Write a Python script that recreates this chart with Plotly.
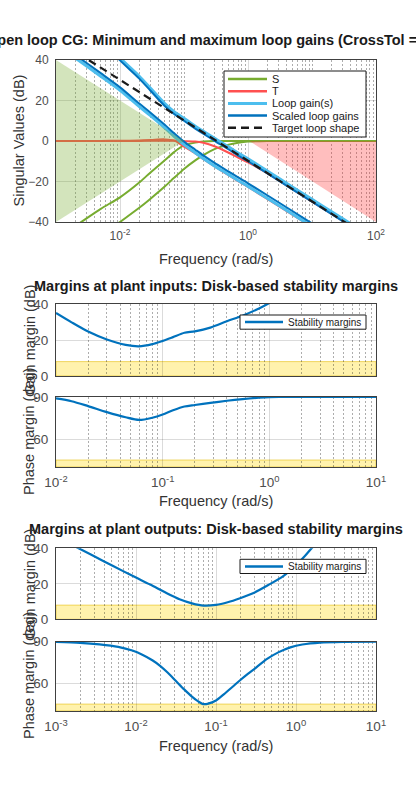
import plotly.graph_objects as go

W, H = 416, 800
FONT = "Liberation Sans, Arial, sans-serif"
AX = "#404040"
TICK = "#4d4d4d"
LBL = "#333333"
GRID = "rgba(0,0,0,0.14)"
MGRID = "rgba(0,0,0,0.32)"

# ---------------- top plot: singular values ----------------
freq_top = [0.001, 0.002, 0.005, 0.01, 0.02, 0.03, 0.05, 0.07, 0.1, 0.15, 0.2,
            0.3, 0.5, 0.7, 1, 2, 5, 10, 20, 50, 100]
S_hi = [-48, -42, -33.5, -27.8, -20.5, -15.5, -9.5, -5.5, -2.2, -0.8, -0.3,
        0, 0, 0, 0, 0, 0, 0, 0, 0, 0]
S_lo = [-66, -58, -47, -40, -33, -28.5, -22.5, -18.2, -13.8, -9.6, -7.0,
        -4.0, -1.8, -0.9, -0.3, 0, 0, 0, 0, 0, 0]
T_lo = [0, 0, 0.05, 0.1, 0.3, 0.5, 0.8, 0.3, -2.8, -6.1, -8.9,
        -12.6, -16.9, -19.8, -22.7, -28.6, -36.5, -42.5, -48.3, -56.3, -62.3]
T_hi = [0, 0, 0, 0, 0.05, 0.1, 0.15, 0.1, -0.1, -0.3, -0.9,
        -2.6, -5.8, -8.2, -10.5, -15.9, -23.9, -29.9, -35.9, -43.9, -49.9]
L_min = [48, 41, 32, 25, 17, 12.5, 6.5, 2.3, -1.8, -5.8, -8.6,
         -12.3, -16.6, -19.5, -22.4, -28.3, -36.2, -42.2, -48.2, -56.2, -62.2]
L_max = [73, 63.5, 51, 41, 32, 26, 18.5, 14.5, 11.2, 7.3, 4.8,
         1.3, -3, -6, -8.8, -14.8, -22.8, -28.8, -34.8, -42.8, -48.8]
Ls_min = [49.5, 42.5, 33.5, 26.5, 18.5, 14, 8, 3.8, -0.3, -4.3, -7.1,
          -10.8, -15.1, -18, -20.9, -26.8, -34.7, -40.7, -46.7, -54.7, -60.7]
Ls_max = [71.8, 62.3, 49.8, 39.8, 30.8, 24.8, 17.3, 13.3, 10, 6.1, 3.6,
          0.1, -4.2, -7.2, -10, -16, -24, -30, -36, -44, -50]
freq_target = [0.001, 0.01, 0.1, 1, 10, 100]
target = [50.2, 30.2, 10.2, -9.8, -29.8, -49.8]
min_gain_freq = [0.001, 0.1, 0.001]
min_gain_db = [40, 0, -40]
max_gain_freq = [1.05, 100, 100]
max_gain_db = [0, 0, -40]

# ---------------- margins at plant inputs ----------------
freq_in = [0.01, 0.014, 0.02, 0.03, 0.045, 0.06, 0.08, 0.1, 0.125, 0.16, 0.2,
           0.28, 0.4, 0.56, 0.8, 1.0, 1.25, 1.6, 3, 6, 10]
gm_in = [35, 29.8, 24.7, 20.3, 17.3, 16.5, 17.7, 19.5, 21.6, 24.0, 24.8,
         26.9, 30.4, 33.5, 37.5, 40.5, 44, 48, 55, 60, 62]
pm_in = [89, 87, 83.5, 79.2, 75.5, 73.6, 75.2, 77.5, 80.5, 83.2, 84.3,
         85.8, 87.3, 88.5, 89.5, 89.9, 90, 90, 90, 90, 90]

# ---------------- margins at plant outputs ----------------
freq_out_g = [0.001, 0.002, 0.004, 0.007, 0.01, 0.015, 0.024, 0.035, 0.05, 0.07,
              0.1, 0.14, 0.2, 0.3, 0.45, 0.7, 1, 1.3, 1.6, 2]
gm_out = [46.5, 39.6, 32.6, 27, 23.5, 19.6, 14.8, 11.3, 9.0, 7.7,
          8.1, 9.6, 11.9, 15.0, 19.3, 24.5, 30.5, 35.8, 40.5, 45]
freq_out_p = [0.001, 0.002, 0.0035, 0.006, 0.009, 0.012, 0.016, 0.02, 0.025, 0.032,
              0.04, 0.05, 0.06, 0.069, 0.08, 0.1, 0.125, 0.16, 0.2, 0.25,
              0.32, 0.43, 0.6, 0.85, 1.2, 2, 4, 10]
pm_out = [89.8, 89.2, 88.1, 86.3, 83.6, 80.6, 76.6, 72.6, 67.6, 61.3,
          55.6, 50.4, 46.9, 45.0, 45.3, 47.6, 52.0, 57.3, 62.2, 66.8,
          71.5, 77.4, 82.3, 85.9, 88.0, 89.4, 89.9, 90]
gm_req = 8     # dB, required gain margin band
pm_req = 45    # deg, required phase margin band

C_S = "#77AC30"
C_T = "#FF5050"
C_L = "#4DBEEE"
C_LS = "#0072BD"
C_M = "#0072BD"

fig = go.Figure()


def xp(px):
    return px / W


def yp(py):
    return 1 - py / H


SPL = dict(shape="spline", smoothing=0.8)
# top plot traces (lines first, translucent goal regions on top, as in the reference)
for ys in (S_hi, S_lo):
    fig.add_trace(go.Scatter(x=freq_top, y=ys, mode="lines", line=dict(color=C_S, width=2, **SPL),
                             xaxis="x", yaxis="y", showlegend=False))
for ys in (T_lo, T_hi):
    fig.add_trace(go.Scatter(x=freq_top, y=ys, mode="lines", line=dict(color=C_T, width=2, **SPL),
                             xaxis="x", yaxis="y", showlegend=False))
for ys in (L_min, L_max):
    fig.add_trace(go.Scatter(x=freq_top, y=ys, mode="lines", line=dict(color=C_L, width=3, **SPL),
                             xaxis="x", yaxis="y", showlegend=False))
for ys in (Ls_min, Ls_max):
    fig.add_trace(go.Scatter(x=freq_top, y=ys, mode="lines", line=dict(color=C_LS, width=2, **SPL),
                             xaxis="x", yaxis="y", showlegend=False))
fig.add_trace(go.Scatter(x=freq_target, y=target, mode="lines", line=dict(color="#1a1a1a", width=2.2, dash="8px,5px"),
                         xaxis="x", yaxis="y", showlegend=False))
fig.add_trace(go.Scatter(x=min_gain_freq, y=min_gain_db, fill="toself", mode="lines",
                         line=dict(width=0), fillcolor="rgba(119,172,48,0.32)",
                         xaxis="x", yaxis="y", showlegend=False, hoverinfo="skip"))
fig.add_trace(go.Scatter(x=max_gain_freq, y=max_gain_db, fill="toself", mode="lines",
                         line=dict(width=0), fillcolor="rgba(255,40,40,0.3)",
                         xaxis="x", yaxis="y", showlegend=False, hoverinfo="skip"))

# margin traces
for fx, fy, xa, ya in ((freq_in, gm_in, "x2", "y2"), (freq_in, pm_in, "x3", "y3"),
                       (freq_out_g, gm_out, "x4", "y4"), (freq_out_p, pm_out, "x5", "y5")):
    fig.add_trace(go.Scatter(x=fx, y=fy, mode="lines", line=dict(color=C_M, width=2.2, **SPL),
                             xaxis=xa, yaxis=ya, showlegend=False))


def minor_vals(d0, d1, skip):
    out = []
    for d in range(d0, d1 + 1):
        for k in range(1, 10):
            v = k * 10.0 ** d
            if not any(abs(v - s) / s < 1e-9 for s in skip):
                out.append(v)
    return out


def sup(e):
    return "10<sup>%d</sup>" % e


def xaxis(anchor, rng, majors, labels, size):
    return dict(type="log", domain=[xp(56), xp(376)], range=rng, anchor=anchor,
                automargin=False,
                showline=True, mirror=True, linecolor=AX, linewidth=1,
                showgrid=True, gridcolor=GRID, gridwidth=1, zeroline=False,
                ticks="", tickmode="array", tickvals=[10.0 ** e for e in majors],
                ticktext=[sup(e) for e in majors], showticklabels=labels,
                tickfont=dict(family=FONT, size=size, color=TICK), ticklabelstandoff=3,
                minor=dict(tickmode="array",
                           tickvals=minor_vals(int(rng[0]), int(rng[1]) - 1, [10.0 ** e for e in majors]),
                           showgrid=True, gridcolor=MGRID, griddash="2px,2px", gridwidth=1, ticks=""),
                fixedrange=True)


def yaxis(domain, anchor, rng, vals, size, layer="above traces"):
    return dict(domain=domain, range=rng, anchor=anchor, automargin=False,
                showline=True, mirror=True,
                linecolor=AX, linewidth=1, showgrid=True, gridcolor=GRID, gridwidth=1,
                zeroline=False, ticks="", tickmode="array", tickvals=vals,
                tickfont=dict(family=FONT, size=size, color=TICK), ticklabelstandoff=4,
                layer=layer, fixedrange=True)


fig.update_layout(
    width=W, height=H, autosize=False,
    margin=dict(l=0, r=0, t=0, b=0, pad=0, autoexpand=False),
    paper_bgcolor="white", plot_bgcolor="white",
    font=dict(family=FONT, color=LBL),
    showlegend=False,
    xaxis=xaxis("y", [-3, 2], [-2, 0, 2], True, 12),
    yaxis=yaxis([yp(222), yp(60)], "x", [-40, 40], [-40, -20, 0, 20, 40], 12),
    xaxis2=xaxis("y2", [-2, 1], [-2, -1, 0, 1], False, 13.5),
    yaxis2=yaxis([yp(376), yp(304)], "x2", [0, 40], [0, 20, 40], 13.5),
    xaxis3=xaxis("y3", [-2, 1], [-2, -1, 0, 1], True, 13.5),
    yaxis3=yaxis([yp(467), yp(397)], "x3", [40, 90], [60, 90], 13.5, layer="below traces"),
    xaxis4=xaxis("y4", [-3, 1], [-3, -2, -1, 0, 1], False, 13.5),
    yaxis4=yaxis([yp(619.3), yp(548.3)], "x4", [0, 40], [0, 20, 40], 13.5),
    xaxis5=xaxis("y5", [-3, 1], [-3, -2, -1, 0, 1], True, 13.5),
    yaxis5=yaxis([yp(711), yp(641.7)], "x5", [40, 90], [60, 90], 13.5, layer="below traces"),
)

shapes = []
BAND_FILL = "rgba(255,215,0,0.32)"
BAND_LINE = "rgba(225,185,0,0.55)"
for xa, ya, y0, y1 in (("x2", "y2", 0, gm_req), ("x3", "y3", 40, pm_req),
                       ("x4", "y4", 0, gm_req), ("x5", "y5", 40, pm_req)):
    shapes.append(dict(type="rect", xref=xa + " domain", yref=ya, x0=0, x1=1, y0=y0, y1=y1,
                       fillcolor=BAND_FILL, line=dict(color=BAND_LINE, width=1), layer="below"))

annotations = []


def legend_box(x0, x1, y0, y1):
    shapes.append(dict(type="rect", xref="paper", yref="paper", x0=xp(x0), x1=xp(x1),
                       y0=yp(y1), y1=yp(y0), fillcolor="white", line=dict(color="#1a1a1a", width=1),
                       layer="above"))


def legend_item(lx0, lx1, py, color, width, dash, text, tx, size):
    shapes.append(dict(type="line", xref="paper", yref="paper", x0=xp(lx0), x1=xp(lx1),
                       y0=yp(py), y1=yp(py), line=dict(color=color, width=width, dash=dash),
                       layer="above"))
    annotations.append(dict(text=text, xref="paper", yref="paper", x=xp(tx), y=yp(py),
                            xanchor="left", yanchor="middle", showarrow=False,
                            font=dict(family=FONT, size=size, color="#1a1a1a")))


# top legend
legend_box(224, 366, 71, 137)
items = [("S", C_S, 2.5, "solid"), ("T", C_T, 2.5, "solid"),
         ("Loop gain(s)", C_L, 3, "solid"), ("Scaled loop gains", C_LS, 2.5, "solid"),
         ("Target loop shape", "#1a1a1a", 2.5, "8px,5px")]
for i, (name, col, wd, ds) in enumerate(items):
    legend_item(228, 267, 79 + i * 12.2, col, wd, ds, name, 270, 11)

# stability margin legends
for top in (315, 559.3):
    legend_box(240, 366, top, top + 14.2)
    legend_item(245, 283, top + 7.1, C_M, 2.5, "solid", "Stability margins", 286, 10)


def label(text, px, py, size=14.5, angle=0, bold=False, color=LBL):
    annotations.append(dict(text=("<b>%s</b>" % text) if bold else text, xref="paper", yref="paper",
                            x=xp(px), y=yp(py), xanchor="center", yanchor="middle",
                            showarrow=False, textangle=angle,
                            font=dict(family=FONT, size=size, color=color)))


label("Open loop CG: Minimum and maximum loop gains (CrossTol = 0.1)", 216, 40, bold=True, color="#1a1a1a")
label("Frequency (rad/s)", 216, 259)
label("Singular Values (dB)", 18.5, 141, angle=-90)
label("Margins at plant inputs: Disk-based stability margins", 216, 286, bold=True, color="#1a1a1a")
label("Gain margin (dB)", 30, 340, angle=-90)
label("Phase margin (deg)", 29, 432, angle=-90)
label("Frequency (rad/s)", 216, 501)
label("Margins at plant outputs: Disk-based stability margins", 216, 529, bold=True, color="#1a1a1a")
label("Gain margin (dB)", 30, 584, angle=-90)
label("Phase margin (deg)", 29, 676, angle=-90)
label("Frequency (rad/s)", 216, 746)

fig.update_layout(shapes=shapes, annotations=annotations)
fig.write_html("out.html", config={"displayModeBar": False},
               post_script="document.body.style.margin='0';document.body.style.overflow='hidden';")
